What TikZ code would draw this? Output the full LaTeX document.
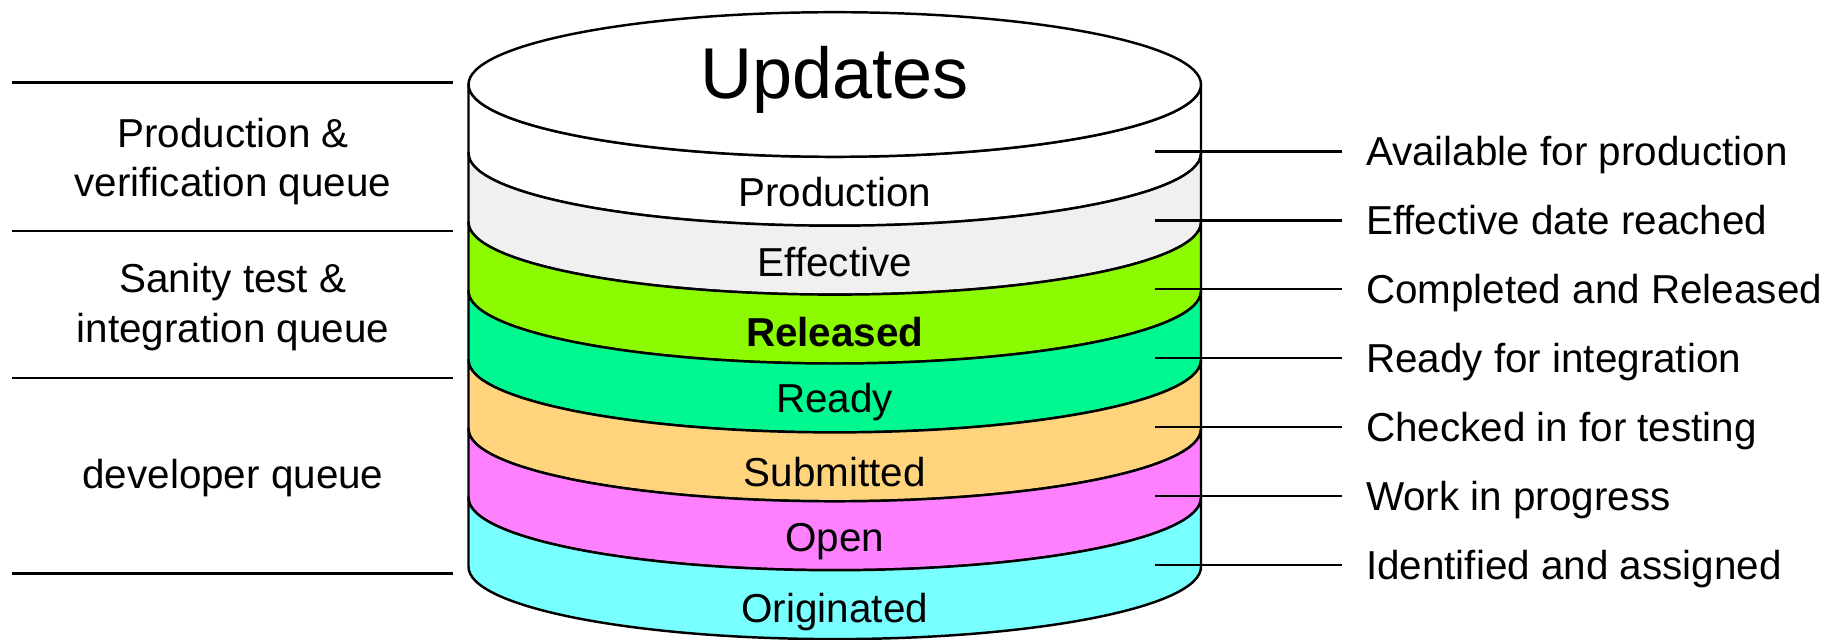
\documentclass[tikz,border=0pt]{standalone}
\usepackage{fontspec}
\setmainfont{Liberation Sans}
\usepackage{tikz}
\usetikzlibrary{positioning}

\definecolor{effgrey}{HTML}{F0F0F0}
\definecolor{relgreen}{HTML}{8CFA00}
\definecolor{rdyteal}{HTML}{00F890}
\definecolor{subamber}{HTML}{FFD47C}
\definecolor{openpink}{HTML}{FF80FF}
\definecolor{origcyan}{HTML}{78FFFF}

\begin{document}
\begin{tikzpicture}[x=0.02cm,y=0.02cm,line width=1.4pt,
   band/.style={draw=black,fill=#1},
   tag/.style={font=\fontsize{23}{28}\selectfont,inner sep=0pt},
   desc/.style={font=\fontsize{23}{28}\selectfont,text height=16.5pt,text depth=0pt,
                inner xsep=13pt,inner ysep=0pt,anchor=west},
   queue/.style={font=\fontsize{23}{28}\selectfont,align=center}]
   \useasboundingbox (0,0) rectangle (1846,639);
   % the layers of the cylinder
   \foreach \col [count=\k] in {white,effgrey,relgreen,rdyteal,subamber,openpink,origcyan} {
      \pgfmathsetmacro\yt{554.5-68.9*(\k-1)}
      \pgfmathsetmacro\yb{554.5-68.9*\k}
      \draw[band=\col] (468.5,\yt) -- (468.5,\yb)
         arc[start angle=180,end angle=360,x radius=366.25,y radius=72.3]
         -- (1201,\yt)
         arc[start angle=0,end angle=-180,x radius=366.25,y radius=72.3] -- cycle;
   }
   \draw[fill=white] (834.75,554.5) ellipse [x radius=366.25,y radius=72.3];
   \node[font=\fontsize{41}{49}\selectfont] (top) at (834.75,559) {Updates};
   \foreach \txt [count=\k] in {Production,Effective,\textbf{Released},Ready,Submitted,Open,Originated}
      \node[tag] (b\k) at (834.75,{517-70*\k}) {\txt};
   % states on the right
   \foreach \txt [count=\k] in {Available for production,Effective date reached,Completed and Released,
         Ready for integration,Checked in for testing,Work in progress,Identified and assigned} {
      \coordinate (p\k) at (1155,{556.5-68.9*\k});
      \node[desc] (d\k) [right=3.74cm of p\k] {\txt};
      \draw (p\k) -- (d\k);
   }
   % queues on the left
   \foreach \y in {556.6,408.2,261.1,65.7}
      \draw (12,\y) -- (453,\y);
   \node[queue] (q1) at (233,477.5) {Production \&\\verification queue};
   \node[queue] (q2) at (233,332) {Sanity test \&\\integration queue};
   \node[queue] (q3) at (233,160.5) {developer queue};
\end{tikzpicture}
\end{document}
